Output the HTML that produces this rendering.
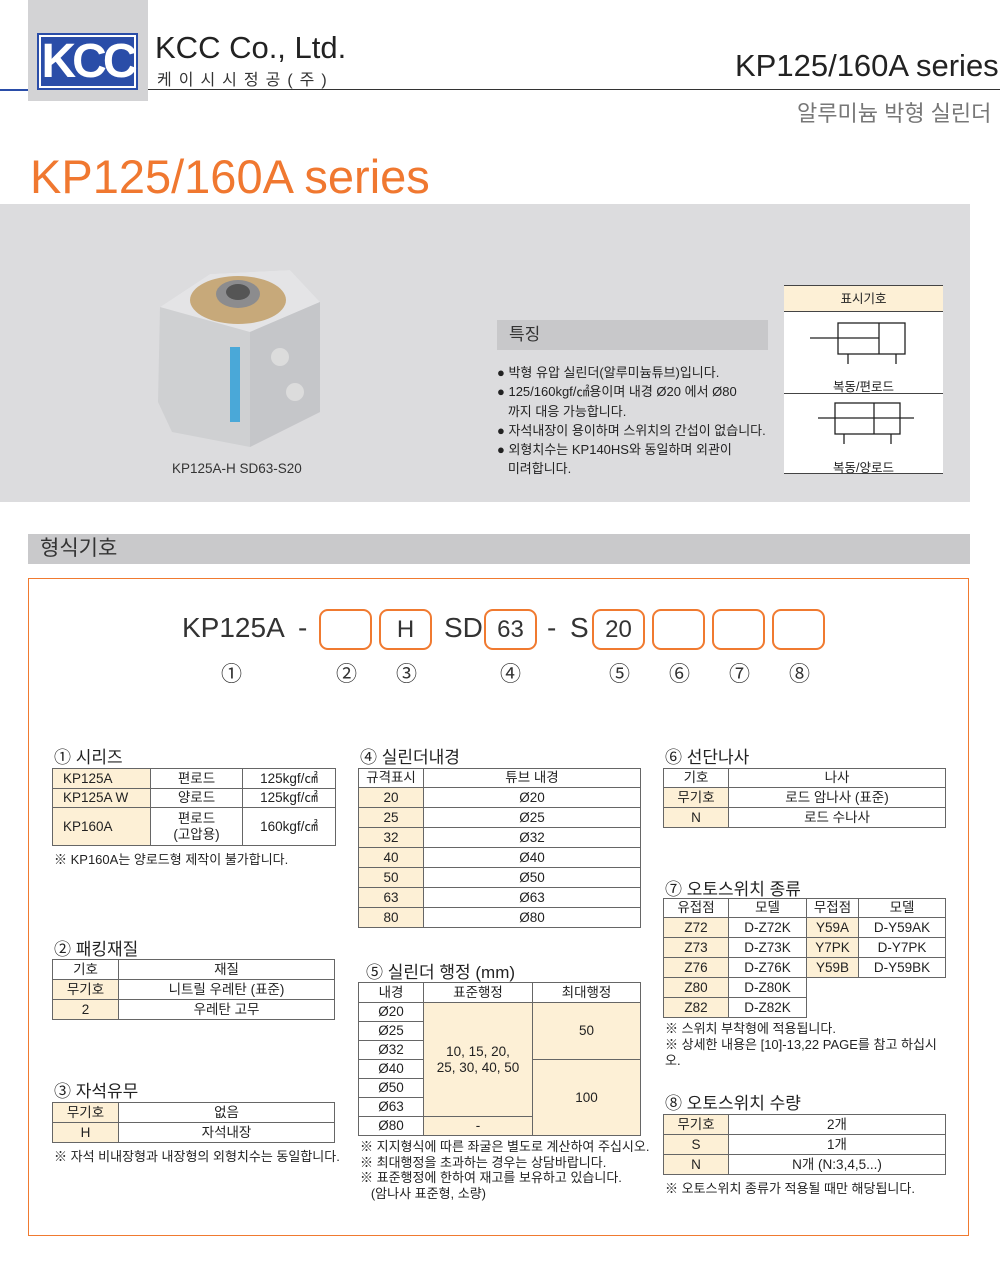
<!DOCTYPE html>
<html><head><meta charset="utf-8"><style>
*{margin:0;padding:0;box-sizing:border-box}
body{width:1000px;height:1266px;position:relative;background:#fff;font-family:"Liberation Sans","Noto Sans CJK KR",sans-serif;color:#222;overflow:hidden}
.a{position:absolute}
table{position:absolute;border-collapse:collapse;table-layout:fixed;font-size:13.5px}
td{border:1px solid #666;text-align:center;padding:0;line-height:16px;background:#fff}
.c{background:#fdf0d6}
.h{font-size:17px;white-space:nowrap}
.n{font-size:13px;white-space:nowrap}
.bx{position:absolute;top:609px;width:53px;height:41px;border:2px solid #f07a30;border-radius:9px;font-size:24px;text-align:center;line-height:37px;color:#333;font-weight:300}
.num{position:absolute;top:658px;font-size:21px;color:#333}
</style></head><body>
<div class="a" style="left:0;top:89px;width:28px;height:2px;background:#2a4da8"></div>
<div class="a" style="left:148px;top:89px;width:852px;height:1px;background:#333"></div>
<div class="a" style="left:28px;top:0;width:120px;height:101px;background:#d3d3d5"></div>
<div class="a" style="left:37px;top:33px;width:101px;height:57px;background:#fff;border:2px solid #2a4da8"></div>
<div class="a" style="left:41px;top:37px;width:93px;height:49px;background:#2a4da8;color:#fff;font-size:48px;font-weight:bold;line-height:49px;text-align:center;letter-spacing:-4px;font-family:'Liberation Sans',sans-serif">KCC</div>
<div class="a" style="left:155px;top:30px;font-size:31px;color:#222">KCC Co., Ltd.</div>
<div class="a" style="left:157px;top:66px;font-size:16px;letter-spacing:7px;color:#333">케이시시정공(주)</div>
<div class="a" style="left:735px;top:48px;font-size:31px;color:#222;white-space:nowrap">KP125/160A series</div>
<div class="a" style="left:797px;top:96px;font-size:22px;color:#777;white-space:nowrap">알루미늄 박형 실린더</div>
<div class="a" style="left:30px;top:149px;font-size:47px;color:#f07830;white-space:nowrap">KP125/160A series</div>

<div class="a" style="left:0;top:204px;width:970px;height:298px;background:#dcdcde"></div>
<svg class="a" style="left:150px;top:262px" width="175" height="190">
<path d="M10 45 L60 12 L140 8 L170 40 L170 150 L100 185 L22 170 L8 140 Z" fill="#cfd0d2"/>
<path d="M10 45 L100 70 L170 40 L140 8 L60 12 Z" fill="#e4e4e6"/>
<path d="M100 70 L170 40 L170 150 L100 185 Z" fill="#c5c6c9"/>
<ellipse cx="88" cy="38" rx="48" ry="24" fill="#c7a97a"/>
<ellipse cx="88" cy="32" rx="22" ry="14" fill="#8c8c8e"/>
<ellipse cx="88" cy="30" rx="12" ry="8" fill="#555"/>
<rect x="80" y="85" width="10" height="75" fill="#4aa8d8"/>
<circle cx="130" cy="95" r="9" fill="#dcdcdc"/><circle cx="145" cy="130" r="9" fill="#dcdcdc"/>
</svg>
<div class="a" style="left:172px;top:461px;font-size:13.5px;color:#333">KP125A-H SD63-S20</div>
<div class="a" style="left:497px;top:320px;width:271px;height:30px;background:#c8c8ca;font-size:17px;line-height:30px;padding-left:12px;color:#333">특징</div>
<div class="a" style="left:497px;top:363px;font-size:13px;line-height:19.3px;color:#222;white-space:nowrap">
● 박형 유압 실린더(알루미늄튜브)입니다.<br>● 125/160kgf/㎠용이며 내경 Ø20 에서 Ø80<br>&nbsp;&nbsp;&nbsp;까지 대응 가능합니다.<br>● 자석내장이 용이하며 스위치의 간섭이 없습니다.<br>● 외형치수는 KP140HS와 동일하며 외관이<br>&nbsp;&nbsp;&nbsp;미려합니다.</div>
<div class="a" style="left:784px;top:285px;width:159px;height:189px;background:#fff;border-top:1px solid #444;border-bottom:1px solid #444"></div>
<div class="a" style="left:784px;top:286px;width:159px;height:26px;background:#fdf0d6;border-bottom:1px solid #444;font-size:12.5px;text-align:center;line-height:26px">표시기호</div>
<div class="a" style="left:784px;top:393px;width:159px;height:1px;background:#444"></div>
<svg class="a" style="left:784px;top:312px" width="159" height="140">
<g stroke="#222" stroke-width="1.3" fill="none">
<rect x="54" y="11" width="67" height="31"/><line x1="95" y1="11" x2="95" y2="42"/><line x1="26" y1="26" x2="95" y2="26"/>
<line x1="64" y1="42" x2="64" y2="52"/><line x1="112" y1="42" x2="112" y2="52"/>
<rect x="51" y="91" width="65" height="31"/><line x1="90" y1="91" x2="90" y2="122"/><line x1="34" y1="106" x2="130" y2="106"/>
<line x1="60" y1="122" x2="60" y2="132"/><line x1="107" y1="122" x2="107" y2="132"/>
</g></svg>
<div class="a" style="left:784px;top:376px;width:159px;text-align:center;font-size:12.5px">복동/편로드</div>
<div class="a" style="left:784px;top:457px;width:159px;text-align:center;font-size:12.5px">복동/양로드</div>

<div class="a" style="left:28px;top:534px;width:942px;height:30px;background:#c9c9cb;font-size:21px;line-height:30px;padding-left:12px;color:#333">형식기호</div>
<div class="a" style="left:28px;top:578px;width:941px;height:658px;border:1px solid #f07a30"></div>

<div class="a" style="left:182px;top:612px;font-size:28px;color:#333">KP125A</div>
<div class="a" style="left:298px;top:612px;font-size:28px;color:#333">-</div>
<div class="bx" style="left:319px"></div>
<div class="bx" style="left:379px">H</div>
<div class="a" style="left:444px;top:612px;font-size:28px;color:#333">SD</div>
<div class="bx" style="left:484px">63</div>
<div class="a" style="left:547px;top:612px;font-size:28px;color:#333">-</div>
<div class="a" style="left:570px;top:612px;font-size:28px;color:#333">S</div>
<div class="bx" style="left:592px">20</div>
<div class="bx" style="left:652px"></div>
<div class="bx" style="left:712px"></div>
<div class="bx" style="left:772px"></div>
<div class="num" style="left:221px">①</div><div class="num" style="left:336px">②</div><div class="num" style="left:396px">③</div><div class="num" style="left:500px">④</div><div class="num" style="left:609px">⑤</div><div class="num" style="left:669px">⑥</div><div class="num" style="left:729px">⑦</div><div class="num" style="left:789px">⑧</div>

<div class="a h" style="left:54px;top:743px">① 시리즈</div>
<table style="left:52px;top:768px;width:283px"><col style="width:98px"><col style="width:92px"><col style="width:93px">
<tr style="height:20px"><td class="c" style="text-align:left;padding-left:10px">KP125A</td><td>편로드</td><td>125kgf/㎠</td></tr>
<tr style="height:19px"><td class="c" style="text-align:left;padding-left:10px">KP125A W</td><td>양로드</td><td>125kgf/㎠</td></tr>
<tr style="height:38px"><td class="c" style="text-align:left;padding-left:10px">KP160A</td><td>편로드<br>(고압용)</td><td>160kgf/㎠</td></tr></table>
<div class="a n" style="left:54px;top:849px">※ KP160A는 양로드형 제작이 불가합니다.</div>

<div class="a h" style="left:360px;top:743px">④ 실린더내경</div>
<table style="left:358px;top:768px;width:283px"><col style="width:65px"><col>
<tr style="height:19px"><td>규격표시</td><td>튜브 내경</td></tr>
<tr style="height:20px"><td class="c">20</td><td>Ø20</td></tr>
<tr style="height:20px"><td class="c">25</td><td>Ø25</td></tr>
<tr style="height:20px"><td class="c">32</td><td>Ø32</td></tr>
<tr style="height:20px"><td class="c">40</td><td>Ø40</td></tr>
<tr style="height:20px"><td class="c">50</td><td>Ø50</td></tr>
<tr style="height:20px"><td class="c">63</td><td>Ø63</td></tr>
<tr style="height:20px"><td class="c">80</td><td>Ø80</td></tr></table>

<div class="a h" style="left:665px;top:743px">⑥ 선단나사</div>
<table style="left:663px;top:768px;width:283px"><col style="width:65px"><col>
<tr style="height:19px"><td>기호</td><td>나사</td></tr>
<tr style="height:20px"><td class="c">무기호</td><td>로드 암나사 (표준)</td></tr>
<tr style="height:20px"><td class="c">N</td><td>로드 수나사</td></tr></table>

<div class="a h" style="left:665px;top:875px">⑦ 오토스위치 종류</div>
<table style="left:663px;top:898px;width:283px"><col style="width:65px"><col style="width:78px"><col style="width:52px"><col>
<tr style="height:19px"><td>유접점</td><td>모델</td><td>무접점</td><td>모델</td></tr>
<tr style="height:20px"><td class="c">Z72</td><td>D-Z72K</td><td class="c">Y59A</td><td>D-Y59AK</td></tr>
<tr style="height:20px"><td class="c">Z73</td><td>D-Z73K</td><td class="c">Y7PK</td><td>D-Y7PK</td></tr>
<tr style="height:20px"><td class="c">Z76</td><td>D-Z76K</td><td class="c">Y59B</td><td>D-Y59BK</td></tr>
<tr style="height:20px"><td class="c">Z80</td><td>D-Z80K</td><td style="border:none;border-left:1px solid #666"></td><td style="border:none"></td></tr>
<tr style="height:20px"><td class="c">Z82</td><td>D-Z82K</td><td style="border:none;border-left:1px solid #666"></td><td style="border:none"></td></tr></table>
<div class="a n" style="left:665px;top:1021px;line-height:16px">※ 스위치 부착형에 적용됩니다.<br>※ 상세한 내용은 [10]-13,22 PAGE를 참고 하십시<br>오.</div>

<div class="a h" style="left:54px;top:935px">② 패킹재질</div>
<table style="left:52px;top:959px;width:283px"><col style="width:66px"><col>
<tr style="height:20px"><td>기호</td><td>재질</td></tr>
<tr style="height:20px"><td class="c">무기호</td><td>니트릴 우레탄 (표준)</td></tr>
<tr style="height:20px"><td class="c">2</td><td>우레탄 고무</td></tr></table>

<div class="a h" style="left:54px;top:1077px">③ 자석유무</div>
<table style="left:52px;top:1102px;width:283px"><col style="width:66px"><col>
<tr style="height:20px"><td class="c">무기호</td><td>없음</td></tr>
<tr style="height:20px"><td class="c">H</td><td>자석내장</td></tr></table>
<div class="a n" style="left:54px;top:1146px">※ 자석 비내장형과 내장형의 외형치수는 동일합니다.</div>

<div class="a h" style="left:366px;top:958px">⑤ 실린더 행정 (mm)</div>
<table style="left:358px;top:982px;width:283px"><col style="width:65px"><col style="width:109px"><col>
<tr style="height:20px"><td>내경</td><td>표준행정</td><td>최대행정</td></tr>
<tr style="height:19px"><td>Ø20</td><td class="c" rowspan="6">10, 15, 20,<br>25, 30, 40, 50</td><td class="c" rowspan="3">50</td></tr>
<tr style="height:19px"><td>Ø25</td></tr>
<tr style="height:19px"><td>Ø32</td></tr>
<tr style="height:19px"><td>Ø40</td><td class="c" rowspan="4">100</td></tr>
<tr style="height:19px"><td>Ø50</td></tr>
<tr style="height:19px"><td>Ø63</td></tr>
<tr style="height:19px"><td>Ø80</td><td class="c">-</td></tr></table>
<div class="a n" style="left:360px;top:1139px;line-height:15.5px">※ 지지형식에 따른 좌굴은 별도로 계산하여 주십시오.<br>※ 최대행정을 초과하는 경우는 상담바랍니다.<br>※ 표준행정에 한하여 재고를 보유하고 있습니다.<br>&nbsp;&nbsp;&nbsp;(암나사 표준형, 소량)</div>

<div class="a h" style="left:665px;top:1089px">⑧ 오토스위치 수량</div>
<table style="left:663px;top:1114px;width:283px"><col style="width:65px"><col>
<tr style="height:20px"><td class="c">무기호</td><td>2개</td></tr>
<tr style="height:20px"><td class="c">S</td><td>1개</td></tr>
<tr style="height:20px"><td class="c">N</td><td>N개 (N:3,4,5...)</td></tr></table>
<div class="a n" style="left:665px;top:1178px">※ 오토스위치 종류가 적용될 때만 해당됩니다.</div>
</body></html>
